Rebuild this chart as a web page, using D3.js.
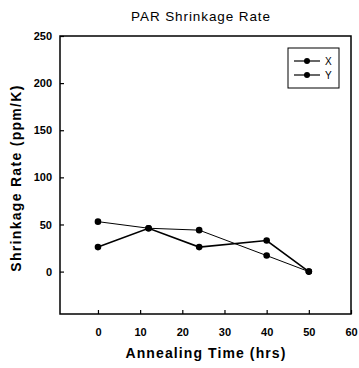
<!DOCTYPE html>
<html>
<head>
<meta charset="utf-8">
<script src="https://cdn.jsdelivr.net/npm/d3@7"></script>
<style>
  body { margin: 0; background: #fff; }
  svg { display: block; font-family: "Liberation Sans", Arial, sans-serif; }
</style>
</head>
<body>
<svg id="chart" width="359" height="368"></svg>
<script>
'use strict';

// chart data
const hours = [0, 12, 24, 40, 50];
const seriesX = [26, 46, 26, 33, 0];
const seriesY = [53, 46, 44, 17, 0];
const xTicks = [0, 10, 20, 30, 40, 50, 60];
const yTicks = [0, 50, 100, 150, 200, 250];
const seriesNames = ['X', 'Y'];

const svg = d3.select('#chart');
const plotLeft = 60, plotRight = 351, plotTop = 36, plotBottom = 314;

const x = d3.scaleLinear().domain([-9, 60]).range([plotLeft, plotRight]);
const y = d3.scaleLinear().domain([-45, 250]).range([plotBottom, plotTop]);

// title
svg.append('text')
    .attr('x', 201).attr('y', 21)
    .attr('text-anchor', 'middle')
    .attr('font-size', 13.5)
    .attr('letter-spacing', 0.9)
    .text('PAR Shrinkage Rate');

// frame
svg.append('rect')
    .attr('x', plotLeft).attr('y', plotTop)
    .attr('width', plotRight - plotLeft).attr('height', plotBottom - plotTop)
    .attr('fill', 'none').attr('stroke', '#000').attr('stroke-width', 1.5);

// axes with inward ticks
const xAxis = svg.append('g')
    .attr('transform', `translate(0,${plotBottom})`)
    .call(d3.axisBottom(x).tickValues(xTicks).tickSizeInner(-4).tickSizeOuter(0).tickPadding(14));
const yAxis = svg.append('g')
    .attr('transform', `translate(${plotLeft},0)`)
    .call(d3.axisLeft(y).tickValues(yTicks).tickSizeInner(-4).tickSizeOuter(0).tickPadding(8));

[xAxis, yAxis].forEach(g => {
    g.select('.domain').remove();
    g.selectAll('text')
        .attr('font-size', 11).attr('font-weight', 'bold')
        .attr('font-family', '"Liberation Sans", Arial, sans-serif');
    g.selectAll('line').attr('stroke-width', 1.2);
});

// axis titles
svg.append('text')
    .attr('x', 206).attr('y', 358)
    .attr('text-anchor', 'middle')
    .attr('font-size', 14).attr('font-weight', 'bold')
    .attr('letter-spacing', 1.1)
    .text('Annealing Time (hrs)');
svg.append('text')
    .attr('transform', 'translate(21,178) rotate(-90)')
    .attr('text-anchor', 'middle')
    .attr('font-size', 14).attr('font-weight', 'bold')
    .attr('letter-spacing', 1.3)
    .text('Shrinkage Rate (ppm/K)');

// series
const line = d3.line().x(d => x(d[0])).y(d => y(d[1]));
const series = [
    { name: seriesNames[0], values: seriesX, width: 1.6 },
    { name: seriesNames[1], values: seriesY, width: 1 }
];

series.forEach(s => {
    const pts = hours.map((h, i) => [h, s.values[i]]);
    svg.append('path')
        .datum(pts)
        .attr('d', line)
        .attr('fill', 'none')
        .attr('stroke', '#000')
        .attr('stroke-width', s.width);
    svg.selectAll(null)
        .data(pts)
        .enter().append('circle')
        .attr('cx', d => x(d[0]))
        .attr('cy', d => y(d[1]))
        .attr('r', 3.3)
        .attr('fill', '#000');
});

// legend
const legend = svg.append('g');
legend.append('rect')
    .attr('x', 288).attr('y', 48)
    .attr('width', 51).attr('height', 40)
    .attr('fill', '#fff').attr('stroke', '#000').attr('stroke-width', 1);
series.forEach((s, i) => {
    const ly = 61 + i * 14;
    legend.append('line')
        .attr('x1', 294).attr('x2', 320)
        .attr('y1', ly).attr('y2', ly)
        .attr('stroke', '#000').attr('stroke-width', 1.2);
    legend.append('circle')
        .attr('cx', 307).attr('cy', ly).attr('r', 3).attr('fill', '#000');
    legend.append('text')
        .attr('x', 325).attr('y', ly + 4)
        .attr('font-size', 10)
        .text(s.name);
});
</script>
</body>
</html>
